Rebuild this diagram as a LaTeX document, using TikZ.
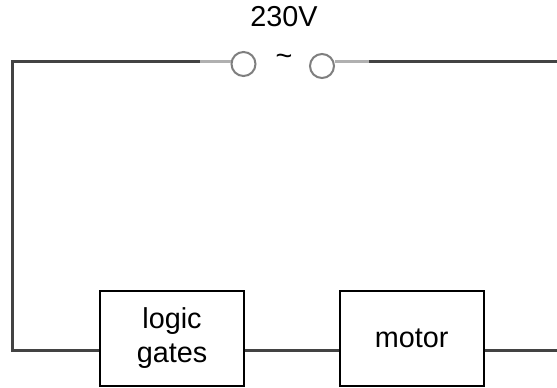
\documentclass[tikz,border=0pt]{standalone}
\usepackage{fontspec}
\setmainfont{Liberation Sans}
\definecolor{wire}{HTML}{434343}
\definecolor{lead}{HTML}{B0B0B0}
\definecolor{ring}{HTML}{7F7F7F}
\tikzset{
  blockbox/.style={draw=black,line width=2pt,fill=white,minimum width=144pt,minimum height=95pt,inner sep=0pt,align=center,font=\fontsize{28.8}{34}\selectfont},
  lbl/.style={anchor=base,inner sep=0pt,font=\fontsize{28.8}{34}\selectfont},
  terminal/.style={circle,draw=ring,line width=2pt,fill=white,minimum size=24pt,inner sep=0pt},
  wireline/.style={draw=wire,line width=2.5pt,line join=miter},
  leadline/.style={draw=lead,line width=2.8pt}
}
\begin{document}
\begin{tikzpicture}[x=1pt,y=-1pt]
\useasboundingbox (0,0) rectangle (557,388);
\fill[white] (0,0) rectangle (557,388);
\node[lbl] (volt) at (284,27) {230V};
\node[lbl] (tilde) at (284,65) {\~{}};
\coordinate (la) at (200,61.5);
\coordinate (ra) at (369,61.5);
\coordinate (corner) at (12.5,61.5);
\coordinate (cornerb) at (12.5,350.5);
\coordinate (rend) at (557,61.5);
\coordinate (bend) at (557,350.5);
\node[blockbox] (logic) at (172,338.5) {logic\\gates};
\node[blockbox] (motor) at (411.75,338.5) {motor};
\node[terminal] (t1) at (243.5,64) {};
\node[terminal] (t2) at (322,66) {};
\draw[wireline] (la) -- (corner) -- (cornerb) -- (cornerb -| logic.west);
\draw[wireline] (cornerb -| logic.east) -- (cornerb -| motor.west);
\draw[wireline] (cornerb -| motor.east) -- (bend);
\draw[wireline] (ra) -- (rend);
\draw[leadline] (la) -- (la -| t1.west);
\draw[leadline] (ra) -- (ra -| t2.east);
\end{tikzpicture}
\end{document}
